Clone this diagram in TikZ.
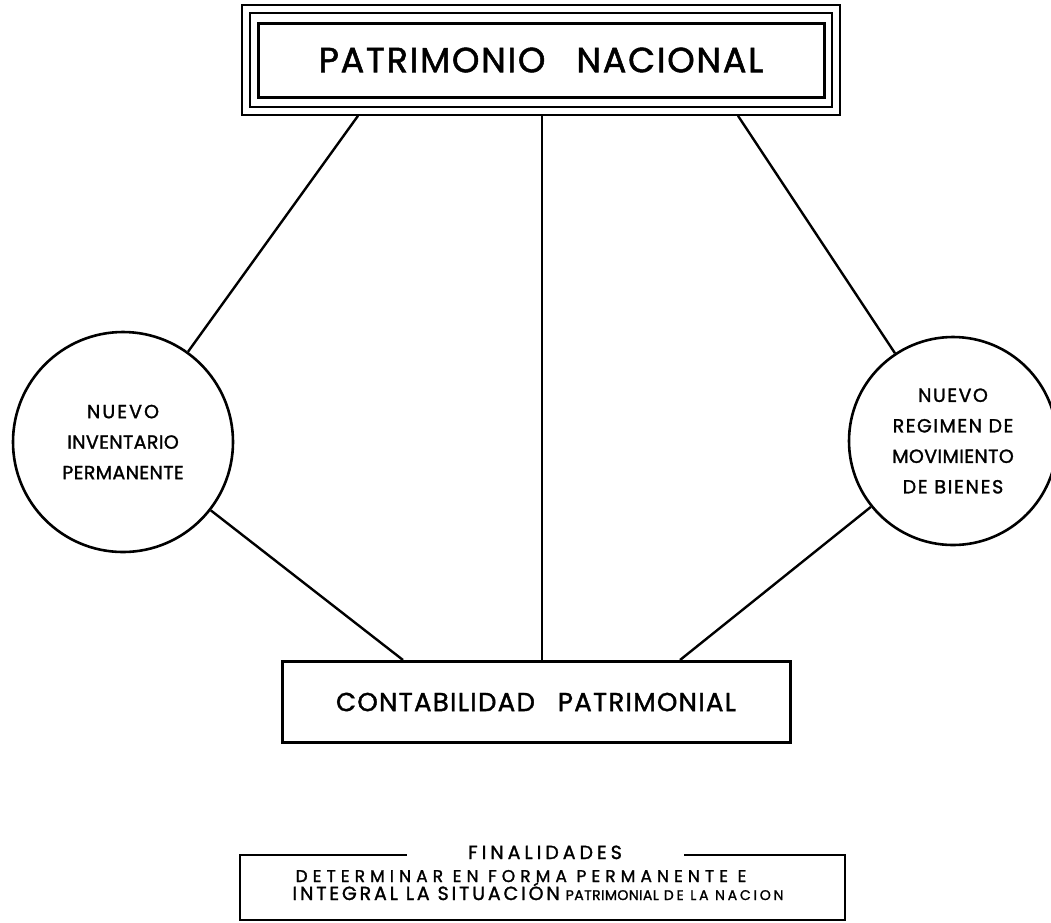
\documentclass[tikz,border=0pt]{standalone}
\usepackage{fontspec}
\setmainfont{Poppins}
\newfontfamily\rotulo{Poppins}[FakeBold=1.5]

\tikzset{
  caja/.style={draw, line width=3pt, inner sep=0pt},
  marco/.style={draw, line width=1.6pt, inner sep=0pt},
  rueda/.style={draw, circle, line width=2.6pt, inner sep=0pt, align=center},
  enlace/.style={line width=2.4pt},
}

\begin{document}
\begin{tikzpicture}[x=1pt,y=-1pt]
  \useasboundingbox (0,0) rectangle (1051,922);

  % Top box (three frames)
  \node[marco, minimum width=598pt, minimum height=110pt] (patriout) at (541,60) {};
  \node[marco, minimum width=582pt, minimum height=94pt] (patrimid) at (541,60) {};
  \node[caja, minimum width=566pt, minimum height=74pt,
        font=\rotulo\fontsize{35}{35}\selectfont\addfontfeature{LetterSpace=5}] (patri) at (541,60)
    {PATRIMONIO\hspace{31pt}NACIONAL};

  % Side circles
  \node[rueda, minimum size=220pt,
        font=\rotulo\fontsize{19}{30.5}\selectfont\addfontfeature{LetterSpace=2}] (inv) at (123,442)
    {{\addfontfeature{LetterSpace=11}NUEVO}\\INVENTARIO\\PERMANENTE};
  \node[rueda, minimum size=208pt,
        font=\rotulo\fontsize{19}{30.5}\selectfont\addfontfeature{LetterSpace=8}] (mov) at (953,441)
    {NUEVO\\REGIMEN DE\\{\addfontfeature{LetterSpace=2}MOVIMIENTO}\\{\addfontfeature{LetterSpace=9}DE BIENES}};

  % Bottom box
  \node[caja, minimum width=508pt, minimum height=81pt,
        font=\rotulo\fontsize{26}{26}\selectfont\addfontfeature{LetterSpace=5}] (conta) at (536,702)
    {CONTABILIDAD\hspace{23pt}PATRIMONIAL};

  % Connectors
  \draw[enlace] ([xshift=-183pt]patriout.south) -- (inv);
  \draw[enlace] ([xshift=1pt]patriout.south) -- ([xshift=6pt]conta.north);
  \draw[enlace] ([xshift=197pt]patriout.south) -- (mov);
  \draw[enlace] (inv) -- ([xshift=-133pt]conta.north);
  \draw[enlace] (mov) -- ([xshift=144pt]conta.north);

  % Finalidades
  \node[marco, line width=2pt, minimum width=605pt, minimum height=65pt] (fin) at (542,887) {};
  \node[fill=white, minimum width=277pt, inner ysep=1pt, anchor=base,
        font=\rotulo\fontsize{19}{19}\selectfont\addfontfeature{LetterSpace=21}] (fintit) at (545,859)
    {FINALIDADES};
  \node[anchor=base, inner sep=0pt,
        font=\rotulo\fontsize{17}{17}\selectfont\addfontfeature{LetterSpace=30}] (finuno) at (521,882)
    {DETERMINAR EN FORMA PERMANENTE E};
  \node[anchor=base, inner sep=0pt, font=\rotulo] (findos) at (538,900)
    {{\fontsize{19}{19}\selectfont\addfontfeature{LetterSpace=15}INTEGRAL LA SITUACIÓN}\hspace{6pt}%
     {\fontsize{14}{14}\selectfont\addfontfeature{LetterSpace=3}PATRIMONIAL}\hspace{5pt}%
     {\fontsize{14}{14}\selectfont\addfontfeature{LetterSpace=20}DE LA NACION}};
\end{tikzpicture}
\end{document}
